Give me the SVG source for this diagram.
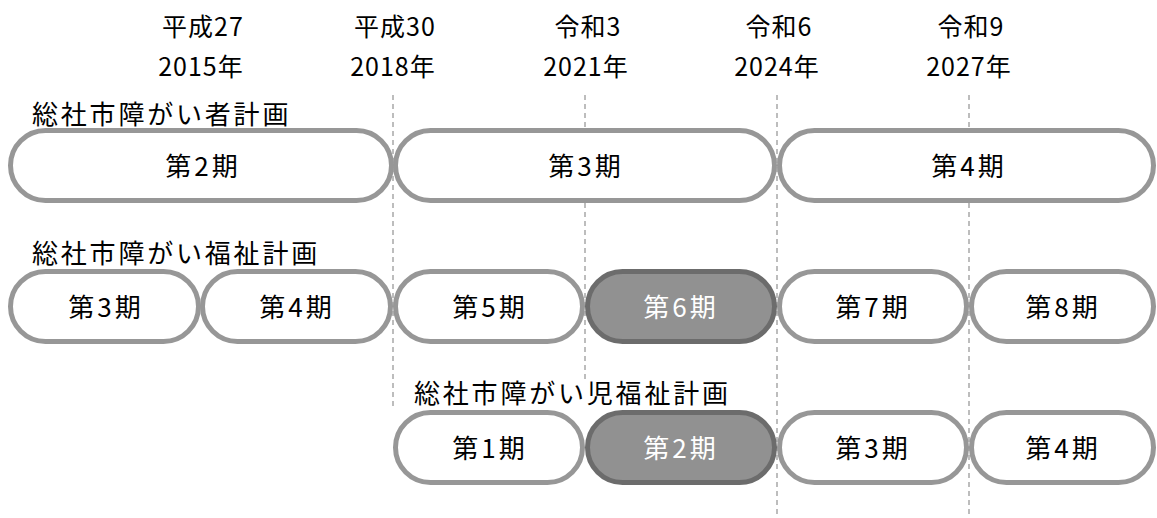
<svg xmlns="http://www.w3.org/2000/svg" width="1157" height="518" viewBox="0 0 1157 518">
<style>
text{font-family:"Noto Sans CJK JP","Noto Sans",sans-serif;fill:#000}
.hd{font-size:25px;text-anchor:middle;letter-spacing:1px}
.lb{font-size:26px;letter-spacing:2.8px}
.pt{font-size:26px;text-anchor:middle;letter-spacing:3px}
.cap{fill:#fff;stroke:#979797;stroke-width:5}
.hl{fill:#919191;stroke:#6c6c6c;stroke-width:5}
.w{fill:#fff}
.dash{stroke:#9a9a9a;stroke-width:1.3;stroke-dasharray:5 4;fill:none}
</style>
<rect width="1157" height="518" fill="#fff"/>
<g id="connectors">
<line class="dash" x1="393" y1="95" x2="393" y2="410"/>
<line class="dash" x1="585" y1="95" x2="585" y2="380"/>
<line class="dash" x1="777" y1="95" x2="777" y2="518"/>
<line class="dash" x1="969" y1="95" x2="969" y2="518"/>
</g>
<g id="header">
<text class="hd" x="203" y="36">平成27</text><text class="hd" x="201" y="76">2015年</text>
<text class="hd" x="395" y="36">平成30</text><text class="hd" x="393" y="76">2018年</text>
<text class="hd" x="588" y="36">令和3</text><text class="hd" x="586" y="76">2021年</text>
<text class="hd" x="779" y="36">令和6</text><text class="hd" x="777" y="76">2024年</text>
<text class="hd" x="971" y="36">令和9</text><text class="hd" x="969" y="76">2027年</text>
</g>
<g id="labels">
<text class="lb" x="32" y="124">総社市障がい者計画</text>
<text class="lb" x="32" y="263">総社市障がい福祉計画</text>
<text class="lb" x="414" y="403">総社市障がい児福祉計画</text>
</g>
<g id="row1">
<g id="r1p2"><rect class="cap" x="10.5" y="130.5" width="381" height="70" rx="35"/><text class="pt" x="203" y="176">第2期</text></g>
<g id="r1p3"><rect class="cap" x="395.5" y="130.5" width="379" height="70" rx="35"/><text class="pt" x="586" y="176">第3期</text></g>
<g id="r1p4"><rect class="cap" x="779.5" y="130.5" width="374" height="70" rx="35"/><text class="pt" x="969" y="176">第4期</text></g>
</g>
<g id="row2">
<g id="r2p3"><rect class="cap" x="10.5" y="271.5" width="188" height="70" rx="35"/><text class="pt" x="106" y="317">第3期</text></g>
<g id="r2p4"><rect class="cap" x="202.5" y="271.5" width="188" height="70" rx="35"/><text class="pt" x="297" y="317">第4期</text></g>
<g id="r2p5"><rect class="cap" x="395.5" y="271.5" width="187" height="70" rx="35"/><text class="pt" x="490" y="317">第5期</text></g>
<g id="r2p6"><rect class="hl" x="587.5" y="271.5" width="187" height="70" rx="35"/><text class="pt w" x="681" y="317">第6期</text></g>
<g id="r2p7"><rect class="cap" x="779.5" y="271.5" width="187" height="70" rx="35"/><text class="pt" x="873" y="317">第7期</text></g>
<g id="r2p8"><rect class="cap" x="971.5" y="271.5" width="182" height="70" rx="35"/><text class="pt" x="1063" y="317">第8期</text></g>
</g>
<g id="row3">
<g id="r3p1"><rect class="cap" x="395.5" y="412.5" width="187" height="70" rx="35"/><text class="pt" x="490" y="458">第1期</text></g>
<g id="r3p2"><rect class="hl" x="587.5" y="412.5" width="187" height="70" rx="35"/><text class="pt w" x="681" y="458">第2期</text></g>
<g id="r3p3"><rect class="cap" x="779.5" y="412.5" width="187" height="70" rx="35"/><text class="pt" x="873" y="458">第3期</text></g>
<g id="r3p4"><rect class="cap" x="971.5" y="412.5" width="182" height="70" rx="35"/><text class="pt" x="1063" y="458">第4期</text></g>
</g>
</svg>
